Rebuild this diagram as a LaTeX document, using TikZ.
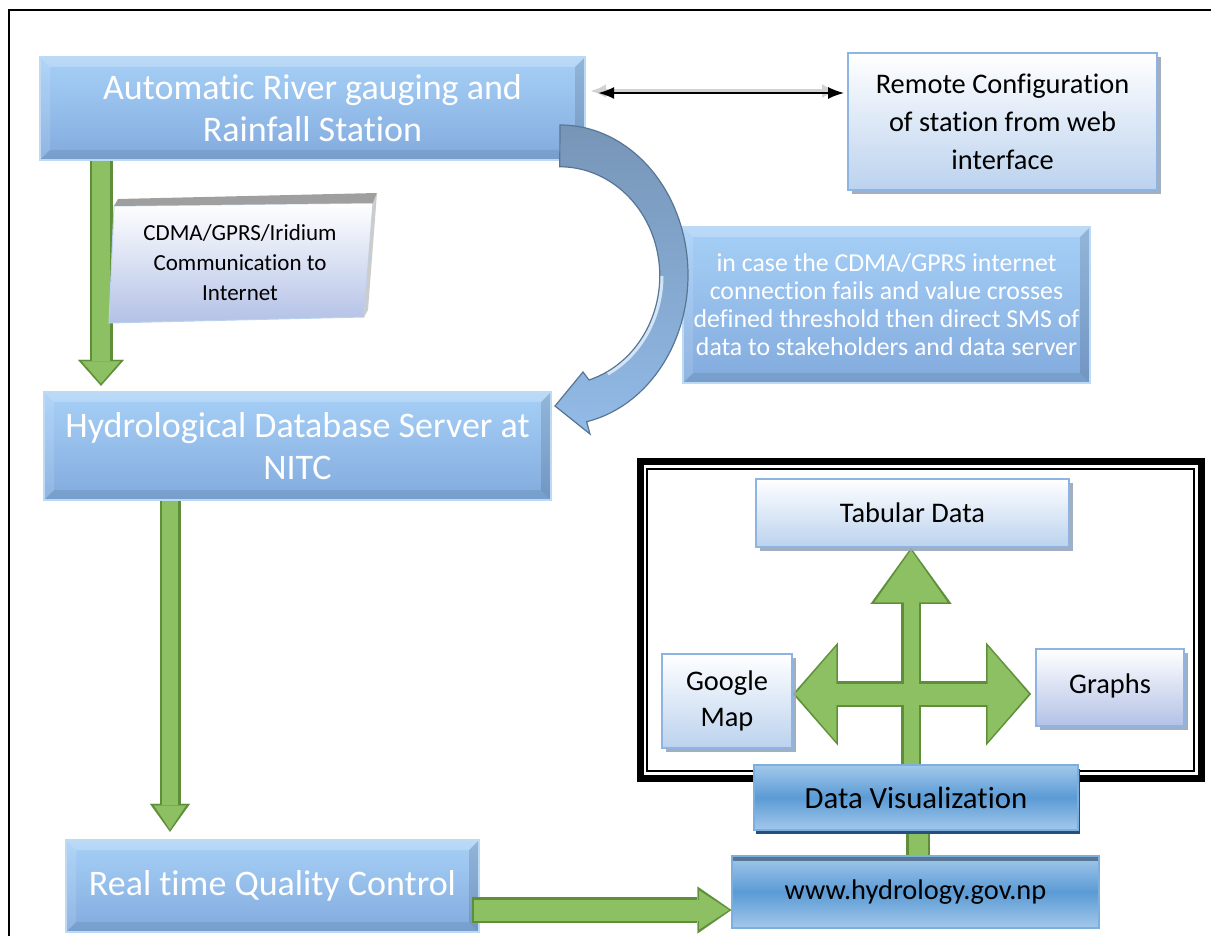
\documentclass[tikz,border=0pt]{standalone}
\usepackage{fontspec}
\setmainfont{Carlito}[Ligatures={NoCommon}]
\usetikzlibrary{arrows.meta,shadows,backgrounds,calc}

\definecolor{bluetop}{HTML}{A7D0F7}
\definecolor{bluebot}{HTML}{82ABDE}
\definecolor{blueedge}{HTML}{BDDAF5}
\definecolor{palebot}{HTML}{BBD2EE}
\definecolor{paleedge}{HTML}{8EB4E3}
\definecolor{lavbot}{HTML}{B3C1E6}
\definecolor{midblue}{HTML}{5B9BD5}
\definecolor{lightblue}{HTML}{A3C8EB}
\definecolor{darkblue}{HTML}{244F80}
\definecolor{gfill}{HTML}{8CC063}
\definecolor{gedge}{HTML}{5E8F38}
\definecolor{steel}{HTML}{7795B7}
\definecolor{steeledge}{HTML}{587694}
\definecolor{skyblue}{HTML}{92BBE7}
\definecolor{shadowgray}{HTML}{98A6BA}

\tikzset{
  bevel/.style={path picture={
    \path (path picture bounding box.north west) coordinate (bnw)
          (path picture bounding box.north east) coordinate (bne)
          (path picture bounding box.south east) coordinate (bse)
          (path picture bounding box.south west) coordinate (bsw);
    \fill[white, opacity=0.22] (bnw) -- (bne) -- ($(bne)+(-#1,-#1)$) -- ($(bnw)+(#1,-#1)$) -- cycle;
    \fill[white, opacity=0.12] (bnw) -- (bsw) -- ($(bsw)+(#1,#1)$) -- ($(bnw)+(#1,-#1)$) -- cycle;
    \fill[black, opacity=0.08] (bse) -- (bsw) -- ($(bsw)+(#1,#1)$) -- ($(bse)+(-#1,#1)$) -- cycle;
    \fill[black, opacity=0.12] (bse) -- (bne) -- ($(bne)+(-#1,-#1)$) -- ($(bse)+(-#1,#1)$) -- cycle;
  }},
  bluebox/.style={rectangle, draw=blueedge, line width=1.2pt, top color=bluetop,
    bottom color=bluebot, text=white, align=center, inner sep=0pt, bevel=5pt,
    font=\fontsize{18}{21}\selectfont},
  palebox/.style={rectangle, draw=paleedge, line width=0.9pt, top color=white,
    bottom color=palebot, align=center, inner sep=0pt,
    drop shadow={shadow xshift=2pt, shadow yshift=-2pt, fill=shadowgray, opacity=0.9},
    font=\fontsize{14.2}{18}\selectfont},
  vizbox/.style={rectangle, draw=midblue!80!white, line width=0.6pt, top color=lightblue,
    bottom color=lightblue, middle color=midblue, align=center, inner sep=0pt,
    font=\fontsize{14.2}{18}\selectfont},
  gout/.style={draw=gedge, line width=#1},
  gin/.style={draw=gfill, line width=#1},
}

\begin{document}
\begin{tikzpicture}[x=0.5pt, y=-0.5pt]
\useasboundingbox (0,0) rectangle (1211,936);

% page frame
\draw[line width=1pt] (9,936) -- (9,10) -- (1211,10);

% main chain
\node[bluebox, minimum width=272.5pt, minimum height=51.5pt] (stat) at (312.5,108.5)
  {Automatic River gauging and\\Rainfall Station};
\node[palebox, minimum width=154.5pt, minimum height=68.5pt,
  font=\fontsize{14.2}{19}\selectfont] (remote) at (1002.5,121.5)
  {Remote Configuration\\of station from web\\interface};
\node[bluebox, minimum width=203.5pt, minimum height=78pt,
  font=\fontsize{12.9}{14}\selectfont] (sms) at (886.5,305)
  {in case the CDMA/GPRS internet\\connection fails and value crosses\\defined threshold then direct SMS of\\data to stakeholders and data server};
\node[bluebox, minimum width=253.5pt, minimum height=54pt] (hydro) at (297.5,446)
  {Hydrological Database Server at\\NITC};
\node[bluebox, minimum width=206.5pt, minimum height=46pt] (qc) at (272.5,886)
  {Real time Quality Control};

% communication card
\shade[top color=white, bottom color=lavbot, draw=paleedge!60, line width=0.5pt]
  (114,206) -- (373,203) -- (364,317) -- (109,323) -- cycle;
\fill[gray!75] (118,199) -- (377,193) -- (373,203) -- (114,206) -- cycle;
\fill[gray!40] (377,193) -- (368,310) -- (364,317) -- (373,203) -- cycle;
\node[font=\fontsize{11.5}{15}\selectfont, align=center] (cdma) at (240,263)
  {CDMA/GPRS/Iridium\\Communication to\\Internet};

% visualization group
\node[palebox, minimum width=156.5pt, minimum height=34pt] (tab) at (912.5,513) {Tabular Data};
\node[palebox, minimum width=65pt, minimum height=47pt] (gmap) at (727,701) {Google\\Map};
\node[palebox, bottom color=lavbot, minimum width=74pt, minimum height=38.5pt] (graphs)
  at (1110,687.5) {\raisebox{3.5pt}{Graphs}};
\node[vizbox, minimum width=162pt, minimum height=32.5pt, font=\fontsize{15.4}{18}\selectfont,
  drop shadow={shadow xshift=0.8pt, shadow yshift=-2pt, fill=darkblue, opacity=1}]
  (viz) at (916,797.5) {Data Visualization};
\node[vizbox, minimum width=183.5pt, minimum height=36pt,
  path picture={\fill[steeledge] (path picture bounding box.north west) rectangle
    ($(path picture bounding box.north east)+(0,-2.5pt)$);}]
  (web) at (915.5,892) {www.hydrology.gov.np};

\coordinate (lane0) at (0,93);
\coordinate (lane1) at (101,0);
\coordinate (lane2) at (170,0);
\coordinate (lane3) at (0,910);
\coordinate (lane4) at (918,0);
\coordinate (lane5) at (911,0);
\coordinate (lane6) at (0,694);

\begin{scope}[on background layer]
  \draw[line width=3.5pt] (640.5,461.5) rectangle (1201.5,778.5);
  \draw[line width=0.8pt] (647,469) rectangle (1194,771);

  % green arrows, edge first
  \draw[gout=11.5pt, -{Triangle[length=13pt,width=23pt,line width=0.1pt,color=gedge]},
    shorten >=2.5pt] (stat.south -| lane1) -- (hydro.north -| lane1);
  \draw[gout=10.5pt, -{Triangle[length=14pt,width=20pt,line width=0.1pt,color=gedge]},
    shorten >=3.5pt] (hydro.south -| lane2) -- (qc.north -| lane2);
  \draw[gout=12pt] (web.north -| lane4) -- (viz.south -| lane4);
  \draw[gout=10pt, -{Triangle[length=28pt,width=40.5pt,line width=0.1pt,color=gedge]}]
    (viz.north -| lane5) -- (tab.south -| lane5);
  \draw[gout=13pt, {Triangle[length=22.5pt,width=51.5pt,line width=0.1pt,color=gedge]}-{Triangle[length=22.5pt,width=51.5pt,line width=0.1pt,color=gedge]},
    shorten >=2pt] (gmap.east |- lane6) -- (graphs.west |- lane6);

  \draw[gin=9pt, -{Triangle[length=11pt,width=19pt,line width=0.1pt,color=gfill]},
    shorten >=3.7pt] (stat.south -| lane1) -- (hydro.north -| lane1);
  \draw[gin=8pt, -{Triangle[length=12pt,width=16pt,line width=0.1pt,color=gfill]},
    shorten >=4.7pt] (hydro.south -| lane2) -- (qc.north -| lane2);
  \draw[gin=9.5pt] (web.north -| lane4) -- (viz.south -| lane4);
  \draw[gin=7.5pt, -{Triangle[length=26pt,width=36.5pt,line width=0.1pt,color=gfill]},
    shorten >=1.2pt] (viz.north -| lane5) -- (tab.south -| lane5);
  \draw[gin=10.5pt, {Triangle[length=20.5pt,width=47.5pt,line width=0.1pt,color=gfill]}-{Triangle[length=20.5pt,width=47.5pt,line width=0.1pt,color=gfill]},
    shorten <=1.2pt, shorten >=3.2pt] (gmap.east |- lane6) -- (graphs.west |- lane6);
\end{scope}

% SMS fallback arrow
\shade[top color=steel, bottom color=skyblue, draw=steeledge, line width=0.6pt]
  (560,125) arc[start angle=-90, end angle=78, x radius=128, y radius=150]
  -- (590,434) -- (555,406) -- (583,372) -- (589,380)
  arc[start angle=73, end angle=-90, x radius=100, y radius=109] -- cycle;
\draw[white!60!skyblue, line width=1.5pt]
  (662,276) arc[start angle=0, end angle=62, x radius=102, y radius=111];

% to the web site
\draw[gout=13pt, -{Triangle[length=17pt,width=23.5pt,line width=0.1pt,color=gedge]},
  shorten <=-4pt] (qc.east |- lane3) -- (web.west |- lane3);
\draw[gin=10.5pt, -{Triangle[length=15pt,width=19.5pt,line width=0.1pt,color=gfill]},
  shorten <=-3pt, shorten >=1.2pt] (qc.east |- lane3) -- (web.west |- lane3);

% remote configuration link
\draw[gray!35, line width=2pt, {Latex[length=8pt,width=7pt]}-{Latex[length=8pt,width=7pt]},
  shorten <=5pt, shorten >=1.5pt, transform canvas={xshift=-3pt, yshift=1pt}]
  (stat.east |- lane0) -- (remote.west |- lane0);
\draw[line width=0.9pt, {Latex[length=8pt,width=6pt]}-{Latex[length=8pt,width=6pt]},
  shorten <=6pt, shorten >=1.5pt] (stat.east |- lane0) -- (remote.west |- lane0);
\end{tikzpicture}
\end{document}
